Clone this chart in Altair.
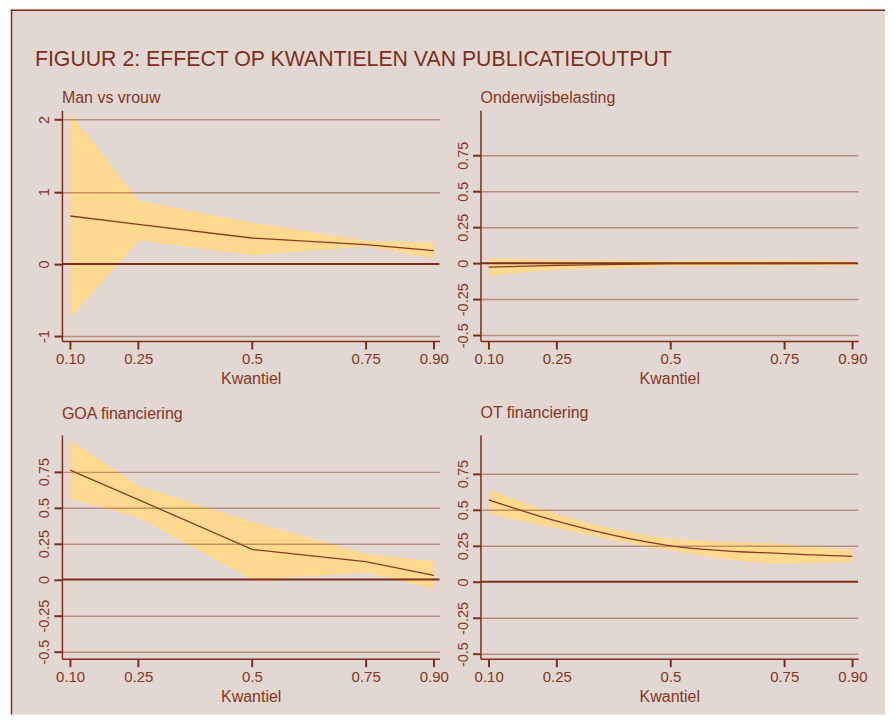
import altair as alt
import pandas as pd

# ---------------- data ----------------
quantiles = [0.10, 0.25, 0.50, 0.75, 0.90]

x_ticks = [0.10, 0.25, 0.50, 0.75, 0.90]
x_labels = ["0.10", "0.25", "0.5", "0.75", "0.90"]

y_ticks_man = [-1, 0, 1, 2]
y_labels_man = ["-1", "0", "1", "2"]
y_ticks_std = [-0.5, -0.25, 0, 0.25, 0.5, 0.75]
y_labels_std = ["-0.5", "-0.25", "0", "0.25", "0.5", "0.75"]

panel_titles = ["Man vs vrouw", "Onderwijsbelasting", "GOA financiering", "OT financiering"]
main_title = "FIGUUR 2: EFFECT OP KWANTIELEN VAN PUBLICATIEOUTPUT"
x_title = "Kwantiel"

man_coef = [0.664, 0.548, 0.359, 0.267, 0.184]
man_lo = [-0.74, 0.323, 0.12, 0.24, 0.078]
man_hi = [2.08, 0.876, 0.57, 0.32, 0.295]

ond_coef = [-0.027, -0.015, -0.003, -0.002, 0.0]
ond_lo = [-0.085, -0.045, -0.02, -0.016, -0.018]
ond_hi = [0.036, 0.022, 0.018, 0.022, 0.016]

goa_coef = [0.76, 0.555, 0.21, 0.125, 0.03]
goa_lo = [0.56, 0.43, 0.0, 0.05, -0.065]
goa_hi = [0.97, 0.65, 0.40, 0.18, 0.125]

ot_coef = [0.568, 0.42, 0.25, 0.195, 0.176]
ot_lo = [0.47, 0.37, 0.215, 0.128, 0.14]
ot_hi = [0.636, 0.47, 0.30, 0.26, 0.22]

# ---------------- styling ----------------
FONT = "Liberation Sans"
BEIGE = "#e3d7d2"
YELLOW = "#ffd98f"
BROWN = "#7b2f1c"
LINE = "#8b3a22"
TEXT = "#86361f"
GRID = "#8b4a32"

X_DOMAIN = [0.082, 0.9124]
PANEL_W = 378


def label_expr(vals, labs):
    expr = "''"
    for v, l in reversed(list(zip(vals, labs))):
        expr = f"abs(datum.value - ({v})) < 1e-6 ? '{l}' : " + expr
    return expr


def make_panel(title, coef, lo, hi, yticks, ylabels, ydomain, height, title_dy,
               interp="linear", first=False):
    df = pd.DataFrame({"q": quantiles, "coef": coef, "lo": lo, "hi": hi})
    xaxis = alt.Axis(values=x_ticks, labelExpr=label_expr(x_ticks, x_labels),
                     title=x_title, grid=False, labelFlush=False,
                     labelOverlap=False, zindex=1)
    yaxis = alt.Axis(values=yticks, labelExpr=label_expr(yticks, ylabels),
                     labelAngle=270, grid=True, title=None, labelFlush=False,
                     labelOverlap=False, zindex=1,
                     gridOpacity={"condition": {"test": "abs(datum.value) < 1e-6", "value": 0},
                                  "value": 0.5})
    xs = alt.Scale(domain=X_DOMAIN, nice=False, zero=False)
    ys = alt.Scale(domain=ydomain, nice=False, zero=False)

    band = alt.Chart(df).mark_area(color=YELLOW, opacity=1, interpolate=interp).encode(
        x=alt.X("q:Q", scale=xs, axis=xaxis),
        y=alt.Y("lo:Q", scale=ys, axis=yaxis),
        y2="hi:Q",
    )
    zero = alt.Chart(pd.DataFrame({"z": [0]})).mark_rule(color=BROWN, strokeWidth=2).encode(
        y=alt.Y("z:Q", scale=ys, axis=yaxis)
    )
    line = alt.Chart(df).mark_line(color=LINE, strokeWidth=1.3, interpolate=interp).encode(
        x=alt.X("q:Q", scale=xs, axis=xaxis),
        y=alt.Y("coef:Q", scale=ys, axis=yaxis),
    )
    ttl = alt.Chart(pd.DataFrame({"t": [title]})).mark_text(
        align="left", baseline="alphabetic", fontSize=16, color=TEXT, font=FONT
    ).encode(x=alt.value(0), y=alt.value(title_dy), text="t:N")

    layers = [band, zero, line, ttl]
    if first:
        one = pd.DataFrame({"a": [0]})
        bg = alt.Chart(one).mark_rect(color=BEIGE).encode(
            x=alt.value(-51), x2=alt.value(824), y=alt.value(-101), y2=alt.value(605))
        fl = alt.Chart(one).mark_rule(color=BROWN, strokeWidth=1.5).encode(
            x=alt.value(-50.5), y=alt.value(-101), y2=alt.value(605))
        ft = alt.Chart(one).mark_rule(color=BROWN, strokeWidth=1.5).encode(
            x=alt.value(-51), x2=alt.value(824), y=alt.value(-100.25))
        pad = alt.Chart(one).mark_rule(opacity=0, strokeWidth=1).encode(
            x=alt.value(-53.5), y=alt.value(0), y2=alt.value(10))
        mt = alt.Chart(pd.DataFrame({"t": [main_title]})).mark_text(
            align="left", baseline="alphabetic", fontSize=21.3, color=BROWN, font=FONT
        ).encode(x=alt.value(-27), y=alt.value(-44), text="t:N")
        layers = [bg, fl, ft, pad, mt] + layers
    return alt.layer(*layers).properties(width=PANEL_W, height=height)


p1 = make_panel(panel_titles[0], man_coef, man_lo, man_hi, y_ticks_man, y_labels_man,
                [-1.069, 2.129], 231, -7, first=True)
p2 = make_panel(panel_titles[1], ond_coef, ond_lo, ond_hi, y_ticks_std, y_labels_std,
                [-0.540, 1.062], 231, -7)
p3 = make_panel(panel_titles[2], goa_coef, goa_lo, goa_hi, y_ticks_std, y_labels_std,
                [-0.549, 1.0045], 224, -16)
p4 = make_panel(panel_titles[3], ot_coef, ot_lo, ot_hi, y_ticks_std, y_labels_std,
                [-0.532, 1.018], 224, -17, interp="monotone")

chart = alt.concat(p1, p2, p3, p4, columns=2, bounds="flush").properties(
    spacing={"row": 94, "column": 41}, padding=0, background="white"
).configure(font=FONT).configure_view(strokeWidth=0).configure_axis(
    labelFont=FONT, labelColor=TEXT, titleFont=FONT, titleColor=TEXT,
    titleFontWeight="normal", domainColor=BROWN, domainWidth=1.5,
    tickColor=BROWN, tickWidth=2, tickSize=8, gridColor=GRID, gridWidth=1.5,
).configure_axisX(labelFontSize=15, labelPadding=3, titleFontSize=16, titlePadding=4
).configure_axisY(labelFontSize=14.5, labelPadding=2)

chart.save("out.html", embed_options={"renderer": "svg", "actions": False})
